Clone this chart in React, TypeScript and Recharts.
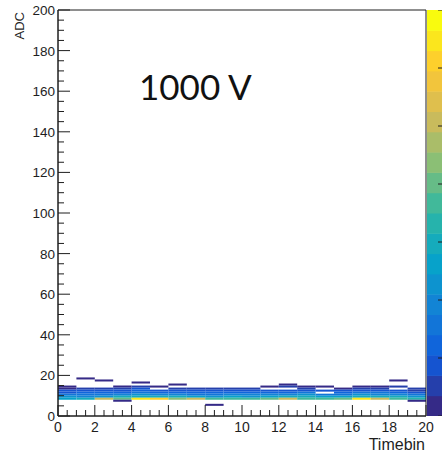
import {
  ComposedChart,
  ReferenceArea,
  Scatter,
  XAxis,
  YAxis,
} from 'recharts'

// ADC counts per timebin (bins 0..19), one array per ADC row
const timebins = [0, 1, 2, 3, 4, 5, 6, 7, 8, 9, 10, 11, 12, 13, 14, 15, 16, 17, 18, 19]
const adc18 = [0, 3, 0, 0, 0, 0, 0, 0, 0, 0, 0, 0, 0, 0, 0, 0, 0, 0, 0, 0]
const adc17 = [0, 0, 3, 0, 0, 0, 0, 0, 0, 0, 0, 0, 0, 0, 0, 0, 0, 0, 3, 0]
const adc16 = [0, 0, 0, 0, 3, 0, 0, 0, 0, 0, 0, 0, 0, 0, 0, 0, 0, 0, 0, 0]
const adc15 = [0, 0, 0, 0, 0, 0, 3, 0, 0, 0, 0, 0, 3, 0, 0, 0, 0, 0, 0, 0]
const adc14 = [3, 0, 0, 3, 4, 3, 0, 0, 0, 0, 0, 3, 4, 3, 3, 0, 3, 3, 4, 0]
const adc13 = [3, 4, 4, 6, 7, 0, 4, 4, 4, 4, 4, 0, 0, 6, 0, 3, 6, 6, 0, 4]
const adc12 = [8, 10, 8, 10, 11, 10, 10, 8, 8, 8, 10, 8, 10, 10, 7, 7, 10, 10, 8, 6]
const adc11 = [10, 11, 11, 13, 14, 13, 13, 11, 11, 11, 13, 11, 13, 14, 0, 11, 14, 14, 11, 8]
const adc10 = [16, 15, 17, 18, 21, 20, 20, 17, 17, 18, 18, 18, 20, 21, 15, 17, 21, 20, 18, 14]
const adc9 = [21, 20, 22, 31, 29, 31, 28, 25, 24, 25, 24, 27, 28, 31, 27, 25, 31, 29, 28, 21]
const adc8 = [26, 28, 50, 40, 64, 62, 45, 52, 35, 35, 38, 40, 52, 38, 35, 40, 66, 52, 38, 33]
const adc7 = [0, 0, 0, 3, 0, 0, 0, 0, 0, 0, 0, 0, 0, 0, 0, 0, 0, 0, 0, 3]
const adc5 = [0, 0, 0, 0, 0, 0, 0, 0, 3, 0, 0, 0, 0, 0, 0, 0, 0, 0, 0, 0]

const rows: [number, number[]][] = [
  [18, adc18], [17, adc17], [16, adc16], [15, adc15], [14, adc14],
  [13, adc13], [12, adc12], [11, adc11], [10, adc10], [9, adc9],
  [8, adc8], [7, adc7], [5, adc5],
]

const zMax = 70
const nContours = 20
const zTicks = [0, 10, 20, 30, 40, 50, 60, 70]
const xTicks = Array.from({ length: 41 }, (_, i) => i * 0.5)
const yTicks = Array.from({ length: 41 }, (_, i) => i * 5)

// kBird palette stops
const stops = [0, 0.125, 0.25, 0.375, 0.5, 0.625, 0.75, 0.875, 1]
const red = [0.2082, 0.0592, 0.078, 0.0232, 0.1802, 0.5301, 0.8186, 0.9956, 0.9764]
const green = [0.1664, 0.3599, 0.5041, 0.6419, 0.7178, 0.7492, 0.7328, 0.7862, 0.9832]
const blue = [0.5293, 0.8684, 0.8385, 0.7914, 0.6425, 0.4662, 0.3499, 0.1968, 0.0539]

function bird(t: number) {
  let i = 0
  while (i < stops.length - 2 && t > stops[i + 1]) i++
  const f = (t - stops[i]) / (stops[i + 1] - stops[i])
  const c = (a: number[]) => Math.round(255 * (a[i] + f * (a[i + 1] - a[i])))
  return `rgb(${c(red)},${c(green)},${c(blue)})`
}

const levelColors = Array.from({ length: nContours }, (_, k) => bird(k / (nContours - 1)))

function colorFor(v: number) {
  const k = Math.min(nContours - 1, Math.floor((v / zMax) * nContours))
  return levelColors[k]
}

const cells = rows.flatMap(([adc, counts]) =>
  timebins
    .filter((b) => counts[b] > 0)
    .map((b) => ({ x: b + 0.5, y: adc + 0.5, bin: b, adc, count: counts[b] }))
)

const ink = '#1e1e1e'
const font = '"Liberation Sans", Arial, sans-serif'

const XTick = (props: any) => {
  const { x, y, payload } = props
  const v = payload.value
  const major = v % 2 === 0
  return (
    <g>
      <line x1={x} x2={x} y1={y} y2={y - (major ? 11 : 6)} stroke={ink} strokeWidth={1} />
      {major && (
        <text x={x} y={y + 16} textAnchor="middle" fontSize={14} fill={ink} fontFamily={font}>
          {v}
        </text>
      )}
    </g>
  )
}

const YTick = (props: any) => {
  const { x, y, payload } = props
  const v = payload.value
  const major = v % 20 === 0
  return (
    <g>
      <line x1={x} x2={x + (major ? 12 : 6)} y1={y} y2={y} stroke={ink} strokeWidth={1} />
      {major && (
        <text x={x - 3} y={y + 5} textAnchor="end" fontSize={13.5} fill={ink} fontFamily={font}>
          {v}
        </text>
      )}
    </g>
  )
}

export default function App() {
  return (
    <div
      style={{
        position: 'absolute',
        left: 0,
        top: 0,
        width: 442,
        height: 458,
        overflow: 'hidden',
        background: '#fff',
      }}
    >
      <ComposedChart
        width={442}
        height={458}
        margin={{ top: 10, right: 16, bottom: 12, left: 8 }}
        data={cells}
      >
        <XAxis
          type="number"
          dataKey="x"
          domain={[0, 20]}
          ticks={xTicks}
          interval={0}
          tickSize={0}
          tickMargin={0}
          tickLine={false}
          tick={XTick}
          height={30}
          axisLine={{ stroke: ink }}
          allowDataOverflow
        />
        <YAxis
          type="number"
          dataKey="y"
          domain={[0, 200]}
          ticks={yTicks}
          interval={0}
          tickSize={0}
          tickMargin={0}
          tickLine={false}
          tick={YTick}
          width={50}
          axisLine={{ stroke: ink }}
          allowDataOverflow
        />
        {cells.map((c) => (
          <ReferenceArea
            key={`${c.bin}-${c.adc}`}
            x1={c.bin}
            x2={c.bin + 1}
            y1={c.adc}
            y2={c.adc + 1}
            fill={colorFor(c.count)}
            fillOpacity={1}
            stroke="none"
          />
        ))}
        <ReferenceArea x1={0} x2={20} y1={0} y2={200} fill="none" stroke={ink} strokeWidth={1} />
        <Scatter dataKey="y" isAnimationActive={false} shape={() => <g />} />
      </ComposedChart>

      {/* z palette */}
      <svg style={{ position: 'absolute', left: 427, top: 10 }} width={15} height={406}>
        {levelColors.map((col, k) => (
          <rect
            key={k}
            x={0}
            y={406 - ((k + 1) * 406) / nContours}
            width={15}
            height={406 / nContours + 0.5}
            fill={col}
          />
        ))}
        {zTicks.map((z) => (
          <line
            key={z}
            x1={11}
            x2={15}
            y1={406 - (z / zMax) * 406}
            y2={406 - (z / zMax) * 406}
            stroke={ink}
          />
        ))}
      </svg>

      <div
        style={{
          position: 'absolute',
          left: 26,
          top: 12,
          transform: 'rotate(-90deg)',
          transformOrigin: '0 0',
          fontFamily: font,
          fontSize: 13,
          color: ink,
          lineHeight: 1,
          whiteSpace: 'nowrap',
        }}
      >
        <span style={{ position: 'absolute', right: 0, bottom: 0 }}>ADC</span>
      </div>

      <div
        style={{
          position: 'absolute',
          right: 17,
          top: 437,
          fontFamily: font,
          fontSize: 16,
          color: ink,
          lineHeight: 1,
        }}
      >
        Timebin
      </div>

      <div
        style={{
          position: 'absolute',
          left: 139,
          top: 69,
          fontFamily: 'Lato, sans-serif',
          fontSize: 35,
          color: '#111',
          lineHeight: 1,
          whiteSpace: 'nowrap',
        }}
      >
        1000 V
      </div>
    </div>
  )
}
